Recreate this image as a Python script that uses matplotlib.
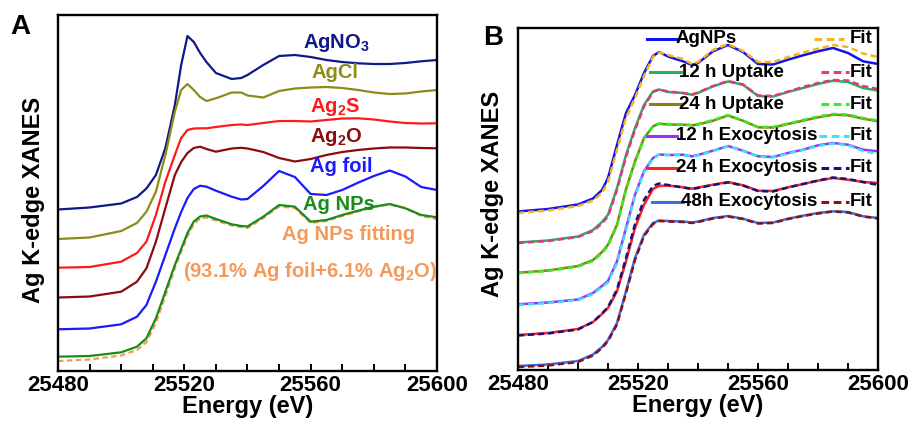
import matplotlib
matplotlib.use("Agg")
import matplotlib.pyplot as plt
from matplotlib.ticker import MultipleLocator

plt.rcParams['font.family'] = ['Liberation Sans', 'DejaVu Sans']
plt.rcParams['font.weight'] = 'bold'
plt.rcParams['mathtext.fontset'] = 'custom'
plt.rcParams['mathtext.bf'] = 'Liberation Sans:bold'
plt.rcParams['mathtext.rm'] = 'Liberation Sans:bold'
plt.rcParams['mathtext.default'] = 'bf'

# ---------------- panel A data (stacked, arbitrary units) ----------------
energy_a = [25480, 25490, 25500, 25505, 25508, 25511, 25514, 25517, 25519, 25521,
            25523, 25525, 25527, 25530, 25535, 25538, 25540, 25545, 25550, 25555,
            25560, 25565, 25570, 25575, 25580, 25585, 25590, 25595, 25600]

agno3 = [161.5, 163.5, 167.5, 174, 182.5, 196, 223, 266, 306, 335,
         329, 318, 309, 298, 292, 293, 296, 306, 315, 316,
         314, 311, 309, 307.7, 307, 307, 308, 309.7, 311]
agcl = [132, 133.5, 140, 148, 159.3, 179.3, 216, 259.3, 281, 287,
        281, 274, 270, 272.7, 278.5, 278.5, 275.5, 273.5, 280, 282.5,
        283.5, 284, 283, 281, 278.5, 277, 277.5, 279.5, 281]
ag2s = [103.3, 104, 109.3, 118, 129.3, 156, 189.3, 216, 233, 241,
        242.5, 242.7, 242.7, 244, 246, 246.5, 246, 248, 250, 250,
        249.5, 251, 252.5, 252.7, 251.5, 249.5, 248, 247.5, 247.7]
ag2o = [73.5, 74.5, 79.3, 89.3, 102.7, 129.3, 163, 196, 209, 218,
        223, 224.3, 222, 219.3, 222.5, 223.2, 222.5, 219, 213, 209.5,
        212, 216, 219, 221, 222.5, 223.5, 223.5, 223, 222.7]
ag_foil = [41.7, 42.5, 46.7, 54.3, 66, 89.3, 116, 142.7, 159, 173,
           182, 185.3, 184.3, 180.3, 174.3, 171.5, 172, 185, 200, 194,
           177, 176, 181, 188.3, 195, 200.5, 194.5, 184, 181]
ag_nps = [14.3, 15, 18.7, 24.3, 32.7, 52.7, 79.3, 106, 122, 138,
          149.5, 154.5, 155.5, 152, 146.7, 145, 144.5, 154.3, 166, 164.3,
          149.3, 151, 156, 160.3, 164.3, 167, 162.7, 156, 153.7]
ag_nps_fit = [10, 11.5, 15.5, 21, 29, 48, 75, 103, 119, 135,
              147, 152.5, 153.5, 150.5, 145.5, 144, 143, 153, 164.5, 163,
              148, 150, 155, 159.5, 164, 166.5, 163, 155, 152]

# ---------------- panel B data ----------------
energy_b = [25480, 25490, 25500, 25505, 25508, 25510, 25513, 25516, 25519, 25522,
            25525, 25527, 25530, 25535, 25538, 25540, 25545, 25550, 25555, 25560,
            25565, 25570, 25575, 25580, 25585, 25590, 25595, 25600]

b_agnps = [158.5, 161, 165.5, 171.5, 180, 192, 225, 257, 275, 297,
           314, 318, 313.5, 308.7, 305, 307, 318.7, 325, 318, 306,
           305.5, 310.3, 314.7, 318.7, 322, 317, 308.7, 306]
b_agnps_fit = [157, 159.5, 164, 169.5, 177, 188, 220, 252, 272, 294,
               313, 317.5, 315, 311, 306, 308, 320, 326, 319, 308,
               308, 313, 317.5, 321.3, 325, 323, 316.5, 313]
b_up12 = [127.5, 129.5, 133.5, 140, 148, 155.3, 182, 215, 242, 265,
          278.5, 280.5, 278, 277, 275.3, 277, 283.7, 288.5, 285.3, 274,
          273.5, 278, 282, 286, 289.3, 288, 282, 279.3]
b_up12_fit = [127, 129, 133, 139, 146.5, 153.5, 180, 213, 240, 263.5,
              278, 280.5, 278.5, 277, 275.5, 277.5, 284, 289, 285.5, 274.5,
              274, 278.5, 283, 287, 290, 289.5, 284, 281]
b_up24 = [97.3, 99.5, 104, 110, 118, 125.3, 145.3, 181, 208.7, 232,
          243.7, 246.3, 245.5, 245.3, 244.7, 245.5, 249.3, 254.5, 249.3, 242.7,
          242.5, 246, 249.3, 252.7, 255.3, 254.7, 251.3, 248.7]
b_up24_fit = [97, 99, 103.5, 109, 117, 124, 144, 180, 207.5, 231,
              243.5, 246.5, 246, 245.5, 245, 246, 250, 255, 249.5, 243,
              243, 246.5, 250, 253.5, 256, 255.5, 252, 249.5]
b_exo12 = [65.7, 67.5, 70.5, 77, 84, 89, 108.7, 142, 175.3, 198.7,
           212, 215.5, 215, 215.3, 213.7, 215, 219.3, 224, 219.3, 213.7,
           213, 217, 220.3, 224.7, 227, 225.3, 220.3, 218.7]
b_exo12_fit = [65, 67, 70, 76, 83, 87.5, 107, 140, 174, 197.5,
               211.5, 215.5, 215, 215, 213.5, 214.5, 219, 224, 219, 213.5,
               212.5, 216.5, 220, 224, 226.5, 225, 219, 216]
b_exo24 = [35, 37, 41, 48, 56, 62, 78.7, 108.7, 142, 165.3,
           181, 184, 184.5, 182.7, 181.3, 182.5, 185.3, 188, 184.7, 179.3,
           179, 182.7, 186, 189.3, 192, 190.3, 188, 187]
b_exo24_fit = [34.5, 36.5, 40.5, 48, 56.5, 63, 80.5, 112, 146, 170,
               184, 186.5, 185, 182.5, 181, 182, 185, 187.5, 184.5, 179,
               178.5, 182.5, 186, 189.5, 192.5, 191, 188, 185]
b_exo48 = [4, 5.5, 9, 15.5, 23, 30, 47, 78.7, 112, 135.3,
           147, 149.5, 149, 148.5, 147.5, 148.5, 152, 154, 151.3, 147,
           147.5, 151.3, 154.3, 157, 158.7, 158, 153.7, 152]
b_exo48_fit = [3, 4.5, 8, 14.5, 22, 29, 45.5, 77, 110, 134,
               146, 149, 148.5, 148, 147, 148, 151.5, 153.5, 151, 146.5,
               147, 151, 154, 156.5, 158.5, 157.5, 153.5, 151.5]

b_labels = ['AgNPs', '12 h Uptake', '24 h Uptake', '12 h Exocytosis',
            '24 h Exocytosis', '48h Exocytosis']

xticks = [25480, 25520, 25560, 25600]

# colours
a_colors = ['#10188a', '#8c8c18', '#ff1a1a', '#8b0c0c', '#1a1aff', '#188c18', '#f5995b']
b_data_colors = ['#1414e6', '#26b24e', '#8c7d10', '#9b30ff', '#ff2020', '#3a6fe0']
b_fit_colors = ['#f5b321', '#e8338a', '#33ee22', '#33e6f0', '#141480', '#8b1010']

W, H = 908, 421
fig = plt.figure(figsize=(W / 100, H / 100), dpi=100)

ax_a = fig.add_axes([58 / W, (H - 371) / H, 379 / W, 356 / H])
ax_b = fig.add_axes([518 / W, (H - 370) / H, 360 / W, 342 / H])


def style_axis(ax, ymax):
    ax.set_xlim(25480, 25600)
    ax.set_ylim(0, ymax)
    ax.set_xticks(xticks)
    ax.xaxis.set_minor_locator(MultipleLocator(10))
    ax.set_yticks([])
    ax.tick_params(axis='x', which='both', direction='in', length=5, width=1.4,
                   labelsize=16, pad=3)
    for lab in ax.get_xticklabels():
        lab.set_fontweight('bold')
    for sp in ax.spines.values():
        sp.set_linewidth(1.7)
    ax.set_xlabel('Energy (eV)', fontsize=17, fontweight='bold', labelpad=-1)


# ---------------- panel A ----------------
dash = (0, (2.5, 1.5))
ax_a.plot(energy_a, ag_nps_fit, color=a_colors[6], lw=1.6, ls=dash)
for vals, c in zip([agno3, agcl, ag2s, ag2o, ag_foil, ag_nps], a_colors[:6]):
    ax_a.plot(energy_a, vals, color=c, lw=1.6)
style_axis(ax_a, 356)

a_texts = [
    ('AgNO$_3$', 0.646, 0.907, a_colors[0]),
    ('AgCl', 0.668, 0.823, a_colors[1]),
    ('Ag$_2$S', 0.665, 0.728, a_colors[2]),
    ('Ag$_2$O', 0.665, 0.643, a_colors[3]),
    ('Ag foil', 0.665, 0.559, a_colors[4]),
    ('Ag NPs', 0.646, 0.452, a_colors[5]),
    ('Ag NPs fitting', 0.591, 0.368, a_colors[6]),
    ('(93.1% Ag foil+6.1% Ag$_2$O)', 0.330, 0.264, a_colors[6]),
]
for s, x, y, c in a_texts:
    ax_a.text(x, y, s, transform=ax_a.transAxes, color=c, fontsize=14.5,
              fontweight='bold', ha='left', va='baseline')

# ---------------- panel B ----------------
b_data = [b_agnps, b_up12, b_up24, b_exo12, b_exo24, b_exo48]
b_fits = [b_agnps_fit, b_up12_fit, b_up24_fit, b_exo12_fit, b_exo24_fit, b_exo48_fit]
for vals, fit, c, fc in zip(b_data, b_fits, b_data_colors, b_fit_colors):
    ax_b.plot(energy_b, vals, color=c, lw=1.8)
    ax_b.plot(energy_b, fit, color=fc, lw=1.8, ls=dash)
style_axis(ax_b, 342)

# hand-made legend, two columns
row_y = [0.968, 0.870, 0.777, 0.685, 0.592, 0.492]
line_x = [(0.358, 0.442), (0.368, 0.452), (0.368, 0.452), (0.358, 0.442),
          (0.358, 0.444), (0.372, 0.458)]
fit_x = [(0.822, 0.906), (0.841, 0.919), (0.841, 0.919), (0.836, 0.919),
         (0.841, 0.919), (0.841, 0.919)]
for i, lab in enumerate(b_labels):
    y = row_y[i]
    ax_b.plot(line_x[i], [y, y], transform=ax_b.transAxes, color=b_data_colors[i],
              lw=2.2, clip_on=False)
    ax_b.text(line_x[i][1] - 0.004, y, lab, transform=ax_b.transAxes, fontsize=13.5,
              fontweight='bold', ha='left', va='center')
    ax_b.plot(fit_x[i], [y, y], transform=ax_b.transAxes, color=b_fit_colors[i],
              lw=2.2, ls=dash, clip_on=False)
    ax_b.text(0.985, y, 'Fit', transform=ax_b.transAxes, fontsize=13.5,
              fontweight='bold', ha='right', va='center')

# y labels and panel letters
fig.text(34 / W, 1 - 200 / H, 'Ag K-edge XANES', rotation=90, ha='center', va='center',
         fontsize=17, fontweight='bold')
fig.text(493 / W, 1 - 194 / H, 'Ag K-edge XANES', rotation=90, ha='center', va='center',
         fontsize=17, fontweight='bold')
fig.text(20 / W, 1 - 27 / H, 'A', ha='center', va='center', fontsize=20, fontweight='bold')
fig.text(493 / W, 1 - 38 / H, 'B', ha='center', va='center', fontsize=20, fontweight='bold')

fig.savefig('out.png', dpi=100)
